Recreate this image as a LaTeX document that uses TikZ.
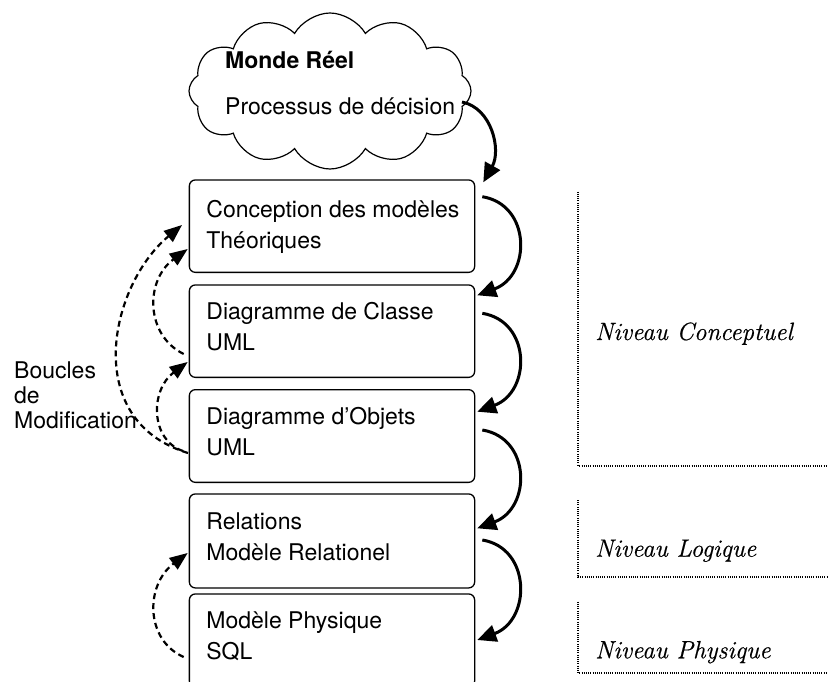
\documentclass[tikz,border=0pt]{standalone}
\usepackage{fontspec}
\newfontfamily\heros{TeX Gyre Heros}
\newfontfamily\lvlfont[FakeBold=0.5]{Latin Modern Roman}
\usetikzlibrary{arrows.meta,shapes.symbols,calc}
\newcommand{\bstrut}{\rule[-7pt]{0pt}{24pt}}
\begin{document}
\begin{tikzpicture}[x=1pt,y=-1pt,
  box/.style={draw, line width=1.3pt, rounded corners=6pt, minimum width=285.3pt, anchor=north west, inner sep=0pt},
  btxt/.style={font=\heros\fontsize{23}{31}\selectfont, align=left, anchor=west, inner sep=0pt},
  flow/.style={line width=3pt, -{Triangle[length=19pt,width=17pt]}},
  loopback/.style={line width=2.2pt, dash pattern=on 6pt off 4pt, -{Triangle[length=18pt,width=14pt]}},
  lvl/.style={font=\lvlfont\itshape\fontsize{25}{29}\selectfont, anchor=base west, inner sep=0pt},
  bracket/.style={line width=2pt, dash pattern=on 1pt off 1.2pt}]
\useasboundingbox (0,0) rectangle (828,682);

% cloud
\node[cloud, draw, line width=1.2pt, cloud puffs=12, cloud puff arc=120, aspect=1.8, cloud ignores aspect,
      minimum width=282pt, minimum height=156pt, inner sep=0pt] (cl) at (330,91) {};
\node[anchor=base west, inner sep=0pt, font=\heros\bfseries\fontsize{23}{28}\selectfont] (mr) at (225,68.3) {Monde Réel};
\node[anchor=base west, inner sep=0pt, font=\heros\fontsize{23}{28}\selectfont] (pd) at (225,115) {Processus de décision};

% boxes
\node[box, minimum height=92.4pt] (b1) at (188.7,179.3) {};
\node[box, minimum height=92.4pt] (b2) at (188.7,284.3) {};
\node[box, minimum height=92.7pt] (b3) at (188.7,389) {};
\node[box, minimum height=94pt]   (b4) at (188.7,493.3) {};
\node[box, minimum height=93pt]   (b5) at (188.7,593.3) {};

\node[btxt] (t1) at ($(b1.west)+(17.5,1.7)$) {\bstrut Conception des modèles\\\bstrut Théoriques};
\node[btxt] (t2) at ($(b2.west)+(17.5,-1.7)$) {\bstrut Diagramme de Classe\\\bstrut UML};
\node[btxt] (t3) at ($(b3.west)+(17.5,-0.85)$) {\bstrut Diagramme d’Objets\\\bstrut UML};
\node[btxt] (t4) at ($(b4.west)+(17.5,-0.8)$) {\bstrut Relations\\\bstrut Modèle Relationel};
\node[btxt] (t5) at ($(b5.west)+(17.5,-1.6)$) {\bstrut Modèle Physique\\\bstrut SQL};

\node[btxt, font=\heros\fontsize{23}{25}\selectfont] (bm) at (14,398.3) {\bstrut Boucles\\\bstrut de\\\bstrut Modification};

% flow arrows
\draw[flow] ($(cl.center)+(132,11)$) .. controls +(30,6) and +(18,-32) .. ($(b1.north east)+(8,3)$);
\draw[flow] ($(b1.north east)+(7,17.4)$) .. controls +(49,8) and +(54,-20) .. ($(b2.north east)+(2,11)$);
\draw[flow] ($(b2.north east)+(7,29)$) .. controls +(49,8) and +(54,-20) .. ($(b3.north east)+(2,22.7)$);
\draw[flow] ($(b3.north east)+(7,41)$) .. controls +(49,8) and +(54,-20) .. ($(b4.north east)+(2,35)$);
\draw[flow] ($(b4.north east)+(7,46.7)$) .. controls +(49,8) and +(54,-20) .. ($(b5.north east)+(2,46.7)$);

% loop-back arrows
\draw[loopback] ($(b3.north west)+(-0.7,64)$) .. controls +(-108,-33) and +(-72,60) .. ($(b1.north west)+(-6.7,45.7)$);
\draw[loopback] ($(b2.north west)+(-5,69.7)$) .. controls +(-38.7,-19) and +(-42.7,31) .. ($(b1.north west)+(-1,69.7)$);
\draw[loopback] ($(b3.north west)+(-5.7,62)$) .. controls +(-33,-11) and +(-37.7,28) .. ($(b2.north west)+(-1,77.7)$);
\draw[loopback] ($(b5.north west)+(-5,63.7)$) .. controls +(-38.7,-17) and +(-42.7,32) .. ($(b4.north west)+(-1,59.7)$);

% level brackets
\draw[bracket] (578.3,191.7) |- (828,465.7);
\draw[bracket] (578.3,500) |- (828,577.3);
\draw[bracket] (578.3,601.7) |- (828,673.3);

\node[lvl] (nc) at (595,340) {Niveau Conceptuel};
\node[lvl] (nl) at (595,556.7) {Niveau Logique};
\node[lvl] (np) at (595,658.3) {Niveau Physique};
\end{tikzpicture}
\end{document}
